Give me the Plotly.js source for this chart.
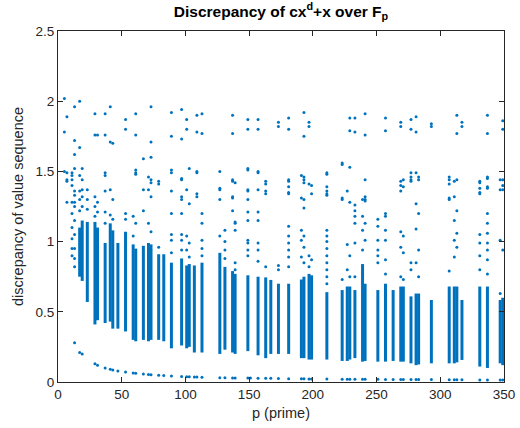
<!DOCTYPE html>
<html><head><meta charset="utf-8">
<script src="https://cdn.plot.ly/plotly-3.0.1.min.js"></script>
<style>html,body{margin:0;padding:0;background:#fff}#chart{width:520px;height:428px}</style>
</head><body><div id="chart"></div>
<script>
// Dense bands of discrepancy values per prime (low end, high end)
const barP  = [17,19,23,29,31,37,41,43,47,53,59,61,67,71,73,79,83,89,97,101,103,107,113,127,131,137,139,149,157,163,167,173,181,191,193,197,199,211,223,227,229,233,239,241,251,257,263,269,271,277,281,283,293,307,311,313,317,331,337,347,349];
const barLo = [0.75,0.72,0.57,0.41,0.44,0.42,0.43,0.38,0.38,0.36,0.30,0.29,0.30,0.29,0.30,0.30,0.29,0.24,0.26,0.24,0.25,0.21,0.21,0.20,0.23,0.21,0.20,0.22,0.19,0.17,0.20,0.20,0.20,0.17,0.17,0.16,0.16,0.16,0.15,0.15,0.16,0.17,0.145,0.15,0.145,0.145,0.15,0.145,0.145,0.133,0.12,0.125,0.133,0.133,0.133,0.14,0.157,0.11,0.10,0.133,0.12];
const barHi = [1.10,1.15,1.14,1.14,1.10,0.99,1.13,1.08,0.99,1.07,0.98,0.95,0.97,0.99,0.98,0.91,0.91,0.85,0.88,0.83,0.84,0.83,0.85,0.92,0.82,0.79,0.77,0.76,0.75,0.745,0.727,0.70,0.70,0.73,0.75,0.77,0.76,0.64,0.655,0.68,0.68,0.655,0.84,0.70,0.655,0.70,0.655,0.68,0.68,0.61,0.63,0.63,0.584,0.68,0.68,0.68,0.584,0.68,0.68,0.584,0.60];

// Isolated discrepancy values above the dense bands
const outP = [5,7,11,13,17,19,23,29,31,37,41,43,53,59,61,67,71,73,79,89,97,101,103,109,113,127,131,137,139,149,157,163,173,181,191,193,197,199,211,223,227,229,233,239,241,251,257,269,271,277,281,283,293,307,311,313,317,331,337,347,349];
const outV = [
 [2.02,1.78,1.50],
 [1.89,1.49,1.44,1.43,1.28],
 [1.49,1.47,1.44,1.40,1.28,1.20,1.10,1.02,0.95,0.90],
 [1.96,1.72,1.62,1.52,1.36,1.33,1.28,1.25,1.15,1.05,0.95,0.88,0.82],
 [2.00,1.67,1.47,1.36,1.30,1.22],
 [1.52,1.44,1.37,1.32,1.25],
 [1.37,1.30,1.23],
 [1.91,1.76,1.32,1.25,1.18],
 [1.76,1.28,1.21],
 [1.91,1.76,1.49,1.47,1.36,1.21,1.13],
 [1.96,1.71,1.37,1.19],
 [1.70,1.30,1.16],
 [1.87,1.80,1.20,1.16],
 [1.18,1.04],
 [1.91,1.76,1.51,1.49,1.48,1.13],
 [1.59,1.37,1.22],
 [1.46,1.37,1.13],
 [1.96,1.71,1.60,1.44,1.42,1.32,1.07],
 [1.43,1.41,0.96],
 [1.92,1.75,1.51,1.49,1.36,1.20,1.05,1.01,0.92],
 [1.94,1.73,1.45,1.44,1.32,1.30,1.20,1.05,1.01,0.94],
 [1.87,1.80,1.37,1.04,0.94],
 [1.52,1.27,0.99,0.89],
 [1.90,1.78,1.50,1.49,1.34,1.32],
 [1.91,1.77,1.20,1.13,1.01,0.95,0.90],
 [1.50,1.38,1.37,1.30,1.04],
 [1.08,1.00,0.94,0.88],
 [1.90,1.77,1.44,1.43,1.32,1.31,1.22],
 [1.42,1.14,1.13,1.08,0.85,0.80],
 [1.87,1.80,1.52,1.51,1.37,1.36,1.30,1.21,1.15,1.01,0.99,0.94,0.90],
 [1.87,1.80,1.50,1.49,1.37,1.21,1.15,0.99,0.94,0.86],
 [1.43,1.41,1.36,1.34,0.82],
 [1.85,1.82,0.83,0.80],
 [1.88,1.80,1.44,1.43,1.39,1.35,1.34,1.11,1.04,0.99,0.94,0.89,0.82],
 [1.47,1.31,1.08,1.01,0.89],
 [1.92,1.75,1.46,1.44,1.42,1.30,1.24,1.04,0.96,0.85],
 [1.85,1.82,1.41,0.90,0.82],
 [1.40,1.34,0.87],
 [1.49,1.48,1.39,1.36,1.34,1.33,1.08,1.04,1.00,0.95,0.90,0.85,0.80,0.75,0.70],
 [1.56,1.55,1.31,1.30,0.73],
 [1.36,0.98,0.80],
 [1.88,1.79,1.53,1.28,0.90,0.75],
 [1.88,1.78,1.26,1.22,1.18,1.13,0.99,0.75],
 [1.30,1.18,1.08,0.94],
 [1.91,1.76,1.44,1.32,1.30,1.29,1.13,1.01],
 [1.16,1.11,1.01,0.94,0.90,0.85],
 [1.88,1.79,1.20,1.18,1.08,1.01,0.87,0.77],
 [1.85,1.82,1.43,1.40,1.36,1.07,0.96,0.75],
 [1.44,1.39,1.04,0.92,0.73],
 [1.87,1.80,1.49,1.46,1.44,1.43,0.85,0.80],
 [1.89,1.78,1.49,1.27,1.09,0.85],
 [1.46,1.44,1.20,0.94,0.75],
 [1.84,1.82],
 [1.46,1.44,1.41,1.31,1.30,0.79],
 [1.43,1.32,1.15,1.01,0.89],
 [1.90,1.77,1.44,1.22,1.06,0.96],
 [1.85,1.82],
 [1.43,1.42,1.38,1.35,1.34,1.05,0.99,0.90,0.80],
 [1.90,1.77,1.46,1.45,1.39,1.38,1.20,1.13,1.06,0.99,0.94,0.87,0.77],
 [1.44,1.37,1.01,0.63],
 [1.86,1.80,1.44,1.40,1.37,0.94]
];

// Lowest discrepancy value per prime (the decaying curve near zero)
const lowP = [13,17,19,29,31,37,41,43,47,53,59,61,67,71,73,79,83,89,97,101,103,107,109,113,127,131,137,139,149,151,157,163,167,173,181,191,193,197,199,211,223,227,229,233,239,241,251,257,263,269,271,277,281,283,293,307,311,313,317,331,337,347,349];
const lowV = [0.28,0.21,0.20,0.13,0.12,0.10,0.09,0.085,0.078,0.072,0.064,0.062,0.057,0.054,0.052,0.048,0.046,0.043,0.040,0.038,0.037,0.036,0.035,0.034,0.030,0.030,0.029,0.029,0.028,0.028,0.027,0.026,0.026,0.025,0.024,0.023,0.023,0.022,0.022,0.021,0.020,0.020,0.020,0.020,0.019,0.019,0.019,0.018,0.018,0.018,0.018,0.017,0.017,0.017,0.017,0.016,0.016,0.016,0.016,0.015,0.015,0.015,0.015];

const blue = '#0072BD';
const bx = [], by = [];
barP.forEach((p, i) => { bx.push(p, p, null); by.push(barLo[i], barHi[i], null); });
const ox = [], oy = [];
outP.forEach((p, i) => { outV[i].forEach(v => { ox.push(p); oy.push(v); }); });

const traces = [
  {x: bx, y: by, type: 'scatter', mode: 'lines', line: {color: blue, width: 3}, hoverinfo: 'skip', showlegend: false},
  {x: ox, y: oy, type: 'scatter', mode: 'markers', marker: {color: blue, size: 3}, showlegend: false},
  {x: lowP, y: lowV, type: 'scatter', mode: 'markers', marker: {color: blue, size: 3}, showlegend: false}
];

const axFont = {family: 'Liberation Sans, Arial, sans-serif', size: 13.5, color: '#262626'};
const layout = {
  width: 520, height: 428,
  margin: {l: 58, r: 16, t: 31, b: 46},
  paper_bgcolor: '#ffffff', plot_bgcolor: '#ffffff',
  showlegend: false,
  title: {
    text: '<b>Discrepancy of cx<sup>d</sup>+x over F<sub>p</sub></b>',
    xref: 'paper', x: 0.5, xanchor: 'center',
    yref: 'container', y: 0.974, yanchor: 'middle',
    font: {family: 'Liberation Sans, Arial, sans-serif', size: 15.5, color: '#000'}
  },
  xaxis: {
    range: [0, 350], tickvals: [0,50,100,150,200,250,300,350],
    ticks: 'inside', ticklen: 5, tickcolor: '#262626', tickwidth: 1,
    showline: true, linecolor: '#262626', linewidth: 1, mirror: 'ticks',
    showgrid: false, zeroline: false, tickfont: axFont,
    title: {text: 'p (prime)', font: {family: 'Liberation Sans, Arial, sans-serif', size: 14.5, color: '#262626'}, standoff: 6}
  },
  yaxis: {
    range: [0, 2.5], tickvals: [0,0.5,1,1.5,2,2.5],
    ticks: 'inside', ticklen: 5, tickcolor: '#262626', tickwidth: 1,
    showline: true, linecolor: '#262626', linewidth: 1, mirror: 'ticks',
    showgrid: false, zeroline: false, tickfont: axFont,
    title: {text: 'discrepancy of value sequence', font: {family: 'Liberation Sans, Arial, sans-serif', size: 14.5, color: '#262626'}, standoff: 8}
  }
};
Plotly.newPlot('chart', traces, layout, {displayModeBar: false, staticPlot: true});
</script>
</body></html>
